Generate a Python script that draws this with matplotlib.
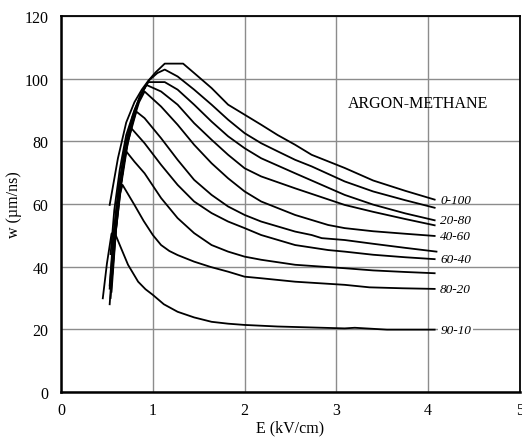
import numpy as np
import matplotlib
matplotlib.use("Agg")
import matplotlib.pyplot as plt

plt.rcParams['font.family'] = ['Liberation Serif', 'DejaVu Serif']

# drift velocity curves, argon-methane mixtures
mixtures = ["0-100", "10-90", "20-80", "30-70", "40-60",
            "50-50", "60-40", "70-30", "80-20", "90-10"]
labelled = ["0-100", "20-80", "40-60", "60-40", "80-20", "90-10"]

e_0_100 = [0.53, 0.58, 0.62, 0.71, 0.80, 0.88, 0.95, 1.03, 1.13, 1.33, 1.45, 1.64, 1.82, 2.00, 2.18, 2.36, 2.55, 2.73, 2.91, 3.09, 3.40, 3.75, 4.07]
w_0_100 = [59.7, 68, 74.6, 86, 92.5, 96.5, 99.3, 102, 104.8, 104.8, 101.8, 97, 91.7, 88.5, 85.3, 82, 78.9, 75.7, 73.6, 71.5, 67.5, 64.2, 61.4]

e_10_90 = [0.54, 0.58, 0.64, 0.71, 0.80, 0.88, 0.96, 1.05, 1.13, 1.27, 1.45, 1.64, 1.82, 2.00, 2.18, 2.36, 2.55, 2.73, 3.09, 3.40, 3.75, 4.07]
w_10_90 = [44, 58, 71, 82, 90, 95.5, 99.5, 101.8, 102.9, 100.7, 96.5, 91.7, 86.9, 82.6, 79.4, 76.8, 74.1, 72, 67.2, 64, 61.2, 58.8]

e_20_80 = [0.53, 0.57, 0.63, 0.70, 0.78, 0.86, 0.95, 1.13, 1.27, 1.45, 1.64, 1.82, 2.00, 2.18, 2.55, 3.09, 3.40, 3.75, 4.07]
w_20_80 = [34, 50, 66, 79, 88, 94.5, 98.9, 98.9, 96.5, 91.7, 86.3, 81.6, 77.8, 74.6, 69.8, 62.9, 59.8, 57, 54.8]

e_30_70 = [0.54, 0.58, 0.64, 0.71, 0.79, 0.86, 0.93, 1.09, 1.27, 1.45, 1.64, 1.82, 2.00, 2.18, 2.55, 3.09, 3.40, 3.75, 4.07]
w_30_70 = [30, 47, 64, 78, 88, 94, 98, 95.9, 91.7, 85.8, 80.5, 75.7, 71.4, 68.8, 65, 59.7, 57.5, 55.2, 53.2]

e_40_60 = [0.53, 0.57, 0.63, 0.70, 0.78, 0.85, 0.91, 1.09, 1.27, 1.45, 1.64, 1.82, 2.00, 2.18, 2.55, 2.91, 3.09, 3.40, 3.75, 4.07]
w_40_60 = [28, 45, 62, 76, 86, 92.5, 95.9, 91.1, 85.3, 78.9, 73, 68.2, 64, 60.8, 56.5, 53.3, 52.3, 51.3, 50.5, 49.8]

e_50_50 = [0.55, 0.60, 0.66, 0.73, 0.82, 0.91, 1.09, 1.27, 1.45, 1.64, 1.82, 2.00, 2.18, 2.55, 2.73, 2.84, 3.09, 3.40, 3.75, 4.09]
w_50_50 = [35, 52, 67, 80, 89.5, 87.4, 81, 74.1, 67.7, 62.9, 59.2, 56.5, 54.4, 51.2, 50.1, 49.1, 48.5, 47.3, 46, 44.8]

e_60_40 = [0.55, 0.60, 0.66, 0.72, 0.75, 0.91, 1.09, 1.27, 1.45, 1.64, 1.82, 2.00, 2.18, 2.55, 2.91, 3.09, 3.40, 3.75, 4.07]
w_60_40 = [32, 52, 68, 80, 84.7, 79.4, 72.5, 66.1, 60.8, 57.1, 54.4, 52.3, 50.1, 46.9, 45.3, 44.8, 43.8, 43, 42.4]

e_70_30 = [0.54, 0.58, 0.63, 0.71, 0.80, 0.91, 1.09, 1.27, 1.45, 1.64, 1.82, 2.00, 2.18, 2.55, 3.09, 3.40, 3.75, 4.07]
w_70_30 = [33, 50, 65, 76.8, 73.5, 69.8, 61.9, 55.5, 50.7, 46.9, 44.8, 43.2, 42.2, 40.6, 39.5, 38.8, 38.3, 37.9]

e_80_20 = [0.53, 0.57, 0.61, 0.67, 0.80, 0.90, 1.00, 1.09, 1.18, 1.27, 1.45, 1.63, 1.82, 2.00, 2.18, 2.55, 3.09, 3.36, 3.72, 4.07]
w_80_20 = [33, 48, 60, 66.1, 59.7, 54.6, 50.1, 46.9, 45.0, 43.7, 41.6, 39.9, 38.4, 36.8, 36.3, 35.2, 34.2, 33.4, 33.1, 32.9]

e_90_10 = [0.455, 0.50, 0.55, 0.58, 0.64, 0.73, 0.84, 0.92, 1.00, 1.12, 1.27, 1.45, 1.64, 1.82, 2.00, 2.36, 3.09, 3.20, 3.55, 4.07]
w_90_10 = [29.9, 41, 50.5, 51.2, 46.9, 40.6, 35.2, 32.8, 31, 28.0, 25.6, 23.8, 22.4, 21.8, 21.4, 20.9, 20.3, 20.5, 19.9, 19.9]

curves = [(e_0_100, w_0_100), (e_10_90, w_10_90), (e_20_80, w_20_80),
          (e_30_70, w_30_70), (e_40_60, w_40_60), (e_50_50, w_50_50),
          (e_60_40, w_60_40), (e_70_30, w_70_30), (e_80_20, w_80_20),
          (e_90_10, w_90_10)]

fig = plt.figure(figsize=(5.22, 4.39), dpi=100)
ax = fig.add_axes([0.1169, 0.1048, 0.8793, 0.8565])

for name, (e, w) in zip(mixtures, curves):
    ax.plot(e, w, color='black', lw=1.3, zorder=3)
    if name in labelled:
        box = None
        if name == "90-10":
            box = dict(facecolor='white', edgecolor='none', pad=1.5)
        ax.text(e[-1] + 0.06, w[-1], name, fontsize=9.5, style='italic',
                ha='left', va='center', bbox=box, zorder=4)

ax.text(3.12, 92.2, "ARGON-METHANE", fontsize=11.5, ha='left', va='center')

ax.set_xlim(0, 5)
ax.set_ylim(0, 120)
ax.set_xticks([0, 1, 2, 3, 4, 5])
ax.set_yticks([0, 20, 40, 60, 80, 100, 120])
ax.grid(True, color='#8c8c8c', lw=1.0)
ax.set_axisbelow(True)
ax.tick_params(length=0, labelsize=11.5)
ax.tick_params(axis='x', pad=7)
ax.tick_params(axis='y', pad=9)
for s in ax.spines.values():
    s.set_linewidth(1.3)
ax.spines['left'].set_linewidth(1.8)
ax.spines['bottom'].set_linewidth(1.8)

ax.set_xlabel("E (kV/cm)", fontsize=11.5, labelpad=1)
ax.set_ylabel("w (\u00b5m/ns)", fontsize=11.5, labelpad=2)

fig.savefig("out.png", dpi=100)
